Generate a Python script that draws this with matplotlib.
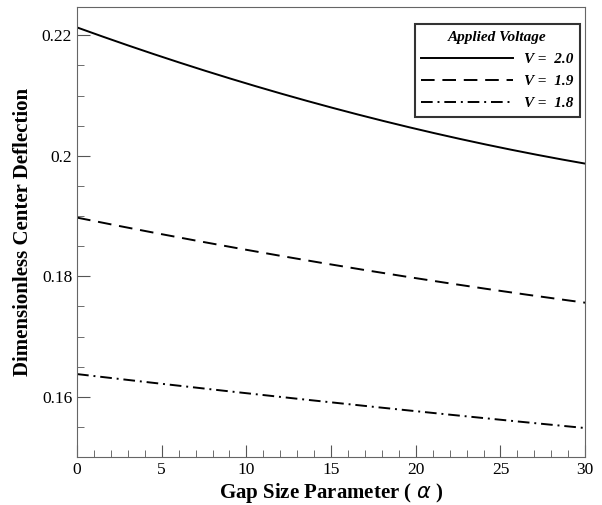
import numpy as np
import matplotlib.pyplot as plt
from matplotlib.ticker import MultipleLocator

alpha = [0, 5, 10, 15, 20, 25, 30]
v20 = [0.2214, 0.2164, 0.2119, 0.2080, 0.2046, 0.2015, 0.1986]
v19 = [0.1898, 0.1869, 0.1844, 0.1820, 0.1797, 0.1776, 0.1756]
v18 = [0.1638, 0.1621, 0.1606, 0.1591, 0.1576, 0.1562, 0.1548]
labels = ["V =  2.0", "V =  1.9", "V =  1.8"]

plt.rcParams['font.family'] = ['Liberation Serif', 'DejaVu Serif']

fig = plt.figure(figsize=(6.02, 5.05), dpi=100)
ax = fig.add_axes([0.128, 0.095, 0.844, 0.891])

# smooth the curves through the read points
xs = np.linspace(0, 30, 200)
for ys, ls, lab in [(v20, '-', labels[0]),
                    (v19, (0, (7, 4)), labels[1]),
                    (v18, (0, (6, 2.5, 1, 2.5)), labels[2])]:
    c = np.polyfit(alpha, ys, 2)
    ax.plot(xs, np.polyval(c, xs), color='black', lw=1.4, ls=ls, label=lab)

ax.set_xlim(0, 30)
ax.set_ylim(0.15, 0.2247)
ax.xaxis.set_major_locator(MultipleLocator(5))
ax.xaxis.set_minor_locator(MultipleLocator(1))
ax.yaxis.set_major_locator(MultipleLocator(0.02))
ax.yaxis.set_minor_locator(MultipleLocator(0.005))
ax.set_yticks([0.16, 0.18, 0.2, 0.22])
ax.set_yticklabels(['0.16', '0.18', '0.2', '0.22'])
ax.tick_params(which='both', direction='in', labelsize=12.5, color='#555555')
ax.tick_params(which='major', length=9)
ax.tick_params(which='minor', length=5)
for s in ax.spines.values():
    s.set_color('#666666')

ax.set_xlabel('Gap Size Parameter ( $\\alpha$ )', fontsize=15, fontweight='bold', labelpad=2)
ax.set_ylabel('Dimensionless Center Deflection', fontsize=15, fontweight='bold', labelpad=6)

leg = ax.legend(title='Applied Voltage', loc='upper right', bbox_to_anchor=(0.99, 0.962),
                borderaxespad=0, fancybox=False, edgecolor='black', handlelength=6.0,
                prop={'weight': 'bold', 'style': 'italic', 'size': 11},
                borderpad=0.45, labelspacing=0.55, handletextpad=0.7)
leg.get_title().set_fontweight('bold')
leg.get_title().set_fontstyle('italic')
leg.get_title().set_fontsize(11)
leg.get_frame().set_linewidth(1.5)

fig.savefig('out.png')
